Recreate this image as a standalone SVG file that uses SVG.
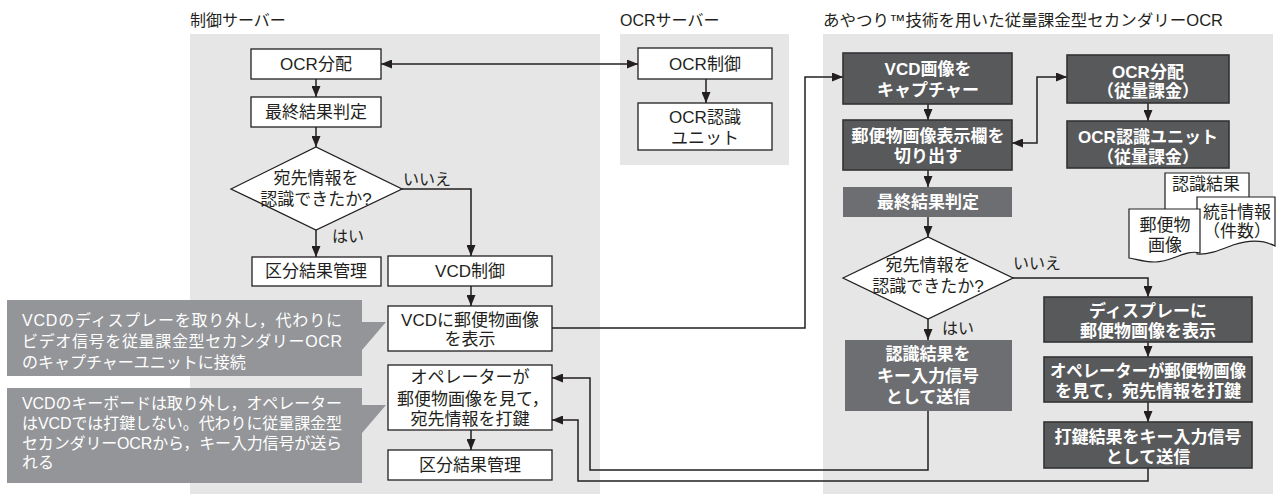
<svg xmlns="http://www.w3.org/2000/svg" width="1279" height="494" viewBox="0 0 1279 494">
<defs>
<marker id="ah" markerWidth="11" markerHeight="9" refX="11" refY="4.5" orient="auto-start-reverse" markerUnits="userSpaceOnUse"><path d="M0,0 L11,4.5 L0,9 z" fill="#231f20"/></marker>
</defs>
<style>
text{font-family:"Liberation Sans","Noto Sans CJK JP",sans-serif;}
.t{font-size:17px;fill:#231f20;text-anchor:middle;}
.lb{font-size:16px;fill:#231f20;}
.ttl{font-size:16px;fill:#231f20;}
.w{font-size:17px;fill:#fff;font-weight:bold;text-anchor:middle;}
.c{font-size:16px;fill:#fff;}
.panel{fill:#e6e6e7;}
.box{fill:#fff;stroke:#231f20;stroke-width:1.3;}
.dbox{fill:#58595b;stroke:#333335;stroke-width:1.6;}
.lbox{fill:#6d6e71;}
.cl{fill:#939598;}
.ln{fill:none;stroke:#231f20;stroke-width:1.5;}
.ar{marker-end:url(#ah);}
.ar2{marker-start:url(#ah);marker-end:url(#ah);}
.doc{fill:#fff;stroke:#231f20;stroke-width:1.2;}
</style>

<g id="panels">
<rect class="panel" x="190" y="34" width="410" height="460"/>
<rect class="panel" x="620" y="34" width="169" height="131"/>
<rect class="panel" x="823" y="34" width="450" height="460"/>
<text class="ttl" x="190" y="26">制御サーバー</text>
<text class="ttl" x="620" y="26">OCRサーバー</text>
<text class="ttl" x="823" y="26" textLength="400" lengthAdjust="spacingAndGlyphs">あやつり™技術を用いた従量課金型セカンダリーOCR</text>
</g>

<g id="connectors">
<line class="ln ar" x1="316" y1="79" x2="316" y2="97"/>
<line class="ln ar" x1="316" y1="127" x2="316" y2="147"/>
<line class="ln ar" x1="316" y1="230" x2="316" y2="257"/>
<polyline class="ln ar" points="402,189 471,189 471,256"/>
<line class="ln ar" x1="471" y1="286" x2="471" y2="306"/>
<line class="ln ar" x1="471" y1="430" x2="471" y2="450"/>
<line class="ln ar2" x1="381" y1="64" x2="638" y2="64"/>
<line class="ln ar" x1="706" y1="79" x2="706" y2="103"/>
<polyline class="ln ar" points="552,328 805,328 805,77 843,77"/>
<polyline class="ln ar" points="928,411 928,470 590,470 590,378 552,378"/>
<polyline class="ln ar" points="1148,468 1148,481 578,481 578,420 552,420"/>
<line class="ln ar" x1="928" y1="104" x2="928" y2="120"/>
<line class="ln ar" x1="928" y1="170" x2="928" y2="187"/>
<line class="ln ar" x1="928" y1="217" x2="928" y2="237"/>
<line class="ln ar" x1="928" y1="319" x2="928" y2="340"/>
<polyline class="ln ar" points="1013,278 1148,278 1148,297"/>
<line class="ln ar" x1="1148" y1="342" x2="1148" y2="357"/>
<line class="ln ar" x1="1148" y1="402" x2="1148" y2="422"/>
<polyline class="ln ar2" points="1012,143 1037,143 1037,77 1067,77"/>
<line class="ln ar" x1="1148" y1="103" x2="1148" y2="121"/>
<text class="lb" x="332" y="242">はい</text>
<text class="lb" x="403" y="185">いいえ</text>
<text class="lb" x="942" y="334">はい</text>
<text class="lb" x="1013" y="269">いいえ</text>
</g>

<g id="n-ocr-dist"><rect class="box" x="251" y="49" width="130" height="30"/><text class="t" x="316" y="70">OCR分配</text></g>
<g id="n-final"><rect class="box" x="251" y="97" width="130" height="30"/><text class="t" x="316" y="118">最終結果判定</text></g>
<g id="n-decision"><polygon class="box" points="231,189 316,147 402,189 316,230"/><text class="t" x="316" y="184">宛先情報を</text><text class="t" x="316" y="205">認識できたか?</text></g>
<g id="n-kubun1"><rect class="box" x="252" y="257" width="129" height="29"/><text class="t" x="316" y="277">区分結果管理</text></g>
<g id="n-vcdctl"><rect class="box" x="388" y="256" width="164" height="30"/><text class="t" x="470" y="277">VCD制御</text></g>
<g id="n-vcddisp"><rect class="box" x="388" y="306" width="164" height="45"/><text class="t" x="470" y="326">VCDに郵便物画像</text><text class="t" x="470" y="345">を表示</text></g>
<g id="n-operator"><rect class="box" x="388" y="365" width="164" height="65"/><text class="t" x="470" y="383">オペレーターが</text><text class="t" x="397" y="405" style="text-anchor:start">郵便物画像を見て，</text><text class="t" x="470" y="425">宛先情報を打鍵</text></g>
<g id="n-kubun2"><rect class="box" x="388" y="450" width="164" height="30"/><text class="t" x="470" y="471">区分結果管理</text></g>

<g id="n-ocrctl"><rect class="box" x="638" y="48" width="134" height="31"/><text class="t" x="705" y="70">OCR制御</text></g>
<g id="n-ocrrec"><rect class="box" x="638" y="103" width="134" height="47"/><text class="t" x="705" y="123">OCR認識</text><text class="t" x="705" y="144">ユニット</text></g>

<g id="n-capture"><rect class="dbox" x="843" y="53" width="169" height="51"/><text class="w" x="928" y="75">VCD画像を</text><text class="w" x="928" y="96">キャプチャー</text></g>
<g id="n-cut"><rect class="dbox" x="843" y="120" width="169" height="50"/><text class="w" x="928" y="142">郵便物画像表示欄を</text><text class="w" x="928" y="162">切り出す</text></g>
<g id="n-final2"><rect class="lbox" x="843" y="187" width="169" height="30"/><text class="w" x="928" y="208">最終結果判定</text></g>
<g id="n-decision2"><polygon class="box" points="843,278 928,237 1013,278 928,319"/><text class="t" x="928" y="271">宛先情報を</text><text class="t" x="928" y="292">認識できたか?</text></g>
<g id="n-recog"><rect class="lbox" x="845" y="340" width="167" height="71"/><text class="w" x="928" y="360">認識結果を</text><text class="w" x="928" y="382">キー入力信号</text><text class="w" x="928" y="403">として送信</text></g>
<g id="n-display"><rect class="dbox" x="1044" y="297" width="208" height="45"/><text class="w" x="1148" y="317">ディスプレーに</text><text class="w" x="1148" y="337">郵便物画像を表示</text></g>
<g id="n-opr"><rect class="dbox" x="1044" y="357" width="208" height="45"/><text class="w" x="1148" y="377" textLength="196" lengthAdjust="spacingAndGlyphs">オペレーターが郵便物画像</text><text class="w" x="1148" y="397">を見て，宛先情報を打鍵</text></g>
<g id="n-keysend"><rect class="dbox" x="1044" y="422" width="208" height="46"/><text class="w" x="1148" y="443">打鍵結果をキー入力信号</text><text class="w" x="1148" y="463">として送信</text></g>
<g id="n-ocrdist2"><rect class="dbox" x="1067" y="55" width="162" height="48"/><text class="w" x="1148" y="78">OCR分配</text><text class="w" x="1148" y="97">（従量課金）</text></g>
<g id="n-ocrrec2"><rect class="dbox" x="1067" y="121" width="162" height="47"/><text class="w" x="1148" y="143">OCR認識ユニット</text><text class="w" x="1148" y="163">（従量課金）</text></g>

<g id="n-docs">
<path class="doc" d="M1165,173 H1249 V232 Q1230,226 1207,234 T1165,234 Z"/>
<text class="t" x="1206" y="190">認識結果</text>
<path class="doc" d="M1197,197 H1275 V246 C1262,239 1248,240 1233,245 C1220,250 1208,255 1197,254 Z"/>
<text class="t" x="1237" y="218">統計情報</text>
<text class="t" x="1237" y="237">（件数）</text>
<path class="doc" d="M1129,209 H1200 V253 C1186,249 1172,262 1155,262 C1143,262 1136,259 1129,258 Z"/>
<text class="t" x="1165" y="231">郵便物</text>
<text class="t" x="1165" y="251">画像</text>
</g>

<g id="callout1">
<path class="cl" d="M7,300 H362 V322 L386,322 L362,350 V376 H7 Z"/>
<text class="c" x="22" y="326" textLength="320" lengthAdjust="spacing">VCDのディスプレーを取り外し，代わりに</text>
<text class="c" x="22" y="347" textLength="320" lengthAdjust="spacing">ビデオ信号を従量課金型セカンダリーOCR</text>
<text class="c" x="22" y="368">のキャプチャーユニットに接続</text>
</g>
<g id="callout2">
<path class="cl" d="M7,388 H362 V405 L386,405 L362,433 V483 H7 Z"/>
<text class="c" x="22" y="409" textLength="320" lengthAdjust="spacing">VCDのキーボードは取り外し，オペレーター</text>
<text class="c" x="22" y="429" textLength="320" lengthAdjust="spacing">はVCDでは打鍵しない。代わりに従量課金型</text>
<text class="c" x="22" y="449" textLength="320" lengthAdjust="spacing">セカンダリーOCRから，キー入力信号が送ら</text>
<text class="c" x="22" y="468">れる</text>
</g>
</svg>
